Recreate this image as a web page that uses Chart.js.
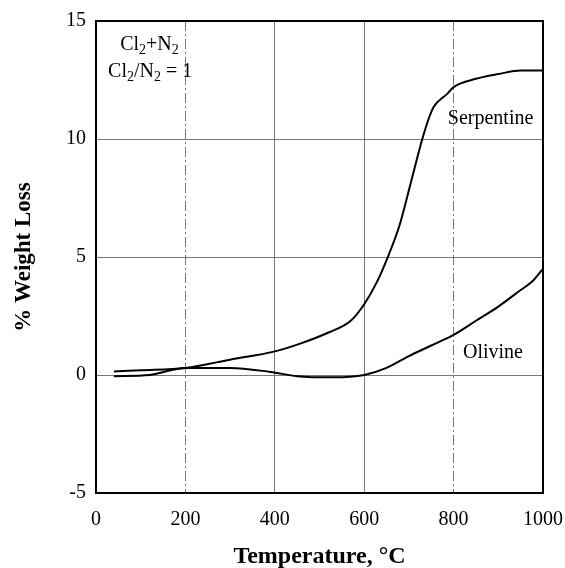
<!DOCTYPE html>
<html>
<head>
<meta charset="utf-8">
<script src="https://cdn.jsdelivr.net/npm/chart.js@4.4.1/dist/chart.umd.min.js"></script>
<style>
  html, body { margin: 0; padding: 0; background: #fff; }
  #wrap { width: 565px; height: 568px; }
</style>
</head>
<body>
<div id="wrap"><canvas id="chart" width="565" height="568"></canvas></div>
<script>
// Temperature (°C) and % weight loss
const serpentineTemp = [40, 100, 200, 300, 400, 460, 520, 570, 600, 630, 655, 680, 705, 730, 745, 755, 785, 800, 850, 900, 950, 1000];
const serpentineLoss = [0.15, 0.2, 0.3, 0.65, 1.0, 1.35, 1.8, 2.3, 3.0, 4.0, 5.1, 6.4, 8.2, 10.0, 10.9, 11.35, 11.9, 12.2, 12.55, 12.75, 12.9, 12.9];

const olivineTemp = [40, 120, 200, 300, 390, 450, 530, 600, 650, 700, 750, 800, 850, 900, 950, 975, 1000];
const olivineLoss = [-0.05, 0, 0.3, 0.3, 0.13, -0.05, -0.1, 0, 0.3, 0.8, 1.25, 1.7, 2.3, 2.9, 3.6, 3.95, 4.5];

const xTicks = [0, 200, 400, 600, 800, 1000];
const yTicks = [-5, 0, 5, 10, 15];

const serif = "'Liberation Serif', 'DejaVu Serif', serif";

function toPoints(xs, ys) {
    return xs.map((x, i) => ({ x: x, y: ys[i] }));
}

// frame round the plot area plus the text labels inside it
const framePlugin = {
    id: 'frame',
    afterDatasetsDraw(chart) {
        const { ctx, chartArea: a, scales } = chart;
        ctx.save();
        ctx.strokeStyle = '#000';
        ctx.lineWidth = 2;
        ctx.strokeRect(a.left, a.top, a.right - a.left, a.bottom - a.top);

        const px = v => scales.x.getPixelForValue(v);
        const py = v => scales.y.getPixelForValue(v);
        ctx.fillStyle = '#000';
        ctx.textBaseline = 'alphabetic';
        ctx.textAlign = 'left';

        // Cl2+N2 with subscripts
        function chem(parts, x, y) {
            let cx = x;
            parts.forEach(p => {
                ctx.font = (p.sub ? '14px ' : '20px ') + serif;
                ctx.fillText(p.t, cx, p.sub ? y + 4 : y);
                cx += ctx.measureText(p.t).width;
            });
        }
        chem([{ t: 'Cl' }, { t: '2', sub: true }, { t: '+N' }, { t: '2', sub: true }], px(54), py(13.77));
        chem([{ t: 'Cl' }, { t: '2', sub: true }, { t: '/N' }, { t: '2', sub: true }, { t: ' = 1' }], px(27), py(12.63));

        ctx.font = '20px ' + serif;
        ctx.fillText('Serpentine', px(787), py(10.63));
        ctx.fillText('Olivine', px(821), py(0.72));
        ctx.restore();
    }
};

new Chart(document.getElementById('chart').getContext('2d'), {
    type: 'line',
    data: {
        datasets: [
            {
                label: 'Serpentine',
                data: toPoints(serpentineTemp, serpentineLoss),
                borderColor: '#000',
                borderWidth: 2,
                pointRadius: 0,
                cubicInterpolationMode: 'monotone',
            },
            {
                label: 'Olivine',
                data: toPoints(olivineTemp, olivineLoss),
                borderColor: '#000',
                borderWidth: 2,
                pointRadius: 0,
                cubicInterpolationMode: 'monotone',
            },
        ],
    },
    options: {
        responsive: false,
        animation: false,
        layout: { padding: { top: 21, right: 22, left: 0, bottom: 0 } },
        plugins: {
            legend: { display: false },
            tooltip: { enabled: false },
        },
        scales: {
            x: {
                type: 'linear',
                min: 0,
                max: 1000,
                afterBuildTicks: s => { s.ticks = xTicks.map(v => ({ value: v })); },
                afterFit: s => { s.height = 75; s.paddingLeft = 0; s.paddingRight = 0; },
                ticks: {
                    color: '#000',
                    font: { family: serif, size: 20 },
                    padding: 15,
                    maxRotation: 0,
                    callback: v => String(v),
                },
                grid: {
                    color: '#555',
                    lineWidth: 0.8,
                    drawTicks: false,
                },
                border: {
                    color: '#000',
                    width: 2,
                    dash: ctx => (ctx.tick && (ctx.tick.value === 200 || ctx.tick.value === 800)) ? [10, 3, 2, 3] : [],
                },
                title: {
                    display: true,
                    text: 'Temperature, °C',
                    color: '#000',
                    font: { family: serif, size: 24, weight: 'bold' },
                    padding: { top: 10, bottom: -3 },
                },
            },
            y: {
                min: -5,
                max: 15,
                afterBuildTicks: s => { s.ticks = yTicks.map(v => ({ value: v })); },
                afterFit: s => { s.width = 96; s.paddingTop = 0; s.paddingBottom = 0; },
                ticks: {
                    color: '#000',
                    font: { family: serif, size: 20 },
                    padding: 10,
                },
                grid: {
                    color: '#555',
                    lineWidth: 0.8,
                    drawTicks: false,
                },
                border: { color: '#000', width: 2 },
                title: {
                    display: true,
                    text: '% Weight Loss',
                    color: '#000',
                    font: { family: serif, size: 23, weight: 'bold' },
                    padding: { top: 10, bottom: 0 },
                },
            },
        },
    },
    plugins: [framePlugin],
});
</script>
</body>
</html>
